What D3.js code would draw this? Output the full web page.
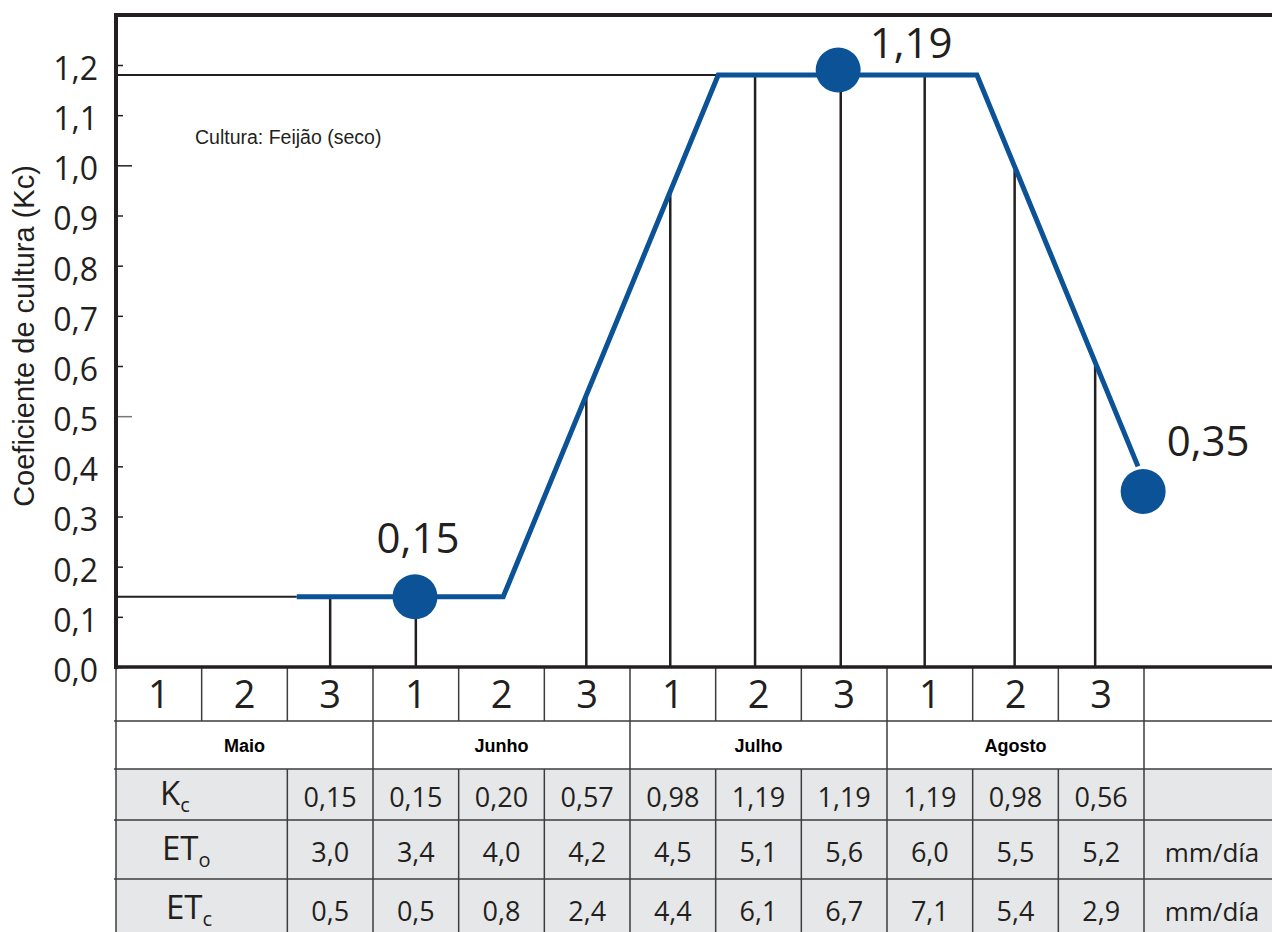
<!DOCTYPE html>
<html>
<head>
<meta charset="utf-8">
<script src="https://cdn.jsdelivr.net/npm/d3@7"></script>
<style>
  html, body { margin: 0; padding: 0; background: #fff; }
  svg { display: block; }
</style>
</head>
<body>
<div id="chart"></div>
<script>
// ---------- DATA ----------
const decadeLabels = ["1","2","3","1","2","3","1","2","3","1","2","3"];
const months = ["Maio","Junho","Julho","Agosto"];
const yTicks = [0,0.1,0.2,0.3,0.4,0.5,0.6,0.7,0.8,0.9,1.0,1.1,1.2];
const kcCurveX = [2.11, 4.52, 7.03, 10.05, 11.93];       // in decade units
const kcCurveY = [0.14, 0.14, 1.18, 1.18, 0.40];
const dropX      = [2.50, 3.50, 5.49, 6.47, 7.46, 8.46, 9.44, 10.49, 11.43]; // decade units
const dropValues = [0.14, 0.14, 0.54, 0.95, 1.18, 1.18, 1.18, 0.99, 0.61];
const markerX = [3.49, 8.43, 11.99];
const markerY = [0.14, 1.19, 0.35];
const markerLabels = ["0,15", "1,19", "0,35"];
const refLineValues = [0.14, 1.18];
const refLineEnds   = [2.11, 7.03];
const kcRow  = ["0,15","0,15","0,20","0,57","0,98","1,19","1,19","1,19","0,98","0,56"];
const etoRow = ["3,0","3,4","4,0","4,2","4,5","5,1","5,6","6,0","5,5","5,2"];
const etcRow = ["0,5","0,5","0,8","2,4","4,4","6,1","6,7","7,1","5,4","2,9"];
const rowLabelMain = ["K","ET","ET"];
const rowLabelSub  = ["c","o","c"];
const rowUnits = ["", "mm/día", "mm/día"];
const yTitle = "Coeficiente de cultura (Kc)";
const cropLabel = "Cultura: Feijão (seco)";

// ---------- LAYOUT ----------
const W = 1272, H = 932;
const ink = "#231f20";
const blue = "#0b5296";
const x = d3.scaleLinear().domain([0, 12]).range([116, 1144]);
const y = d3.scaleLinear().domain([0, 1.2]).range([667, 65]);
const rightEdge = W;
const labelOffsets = [[3, -44], [73, -12], [65, -35]];

const svg = d3.select("#chart").append("svg")
  .attr("width", W).attr("height", H)
  .style("font-family", "'Open Sans', sans-serif");

// ---------- TABLE ----------
const rowTop = [667, 721, 769, 820, 879, 940];
const table = svg.append("g");
table.append("rect").attr("x", x(0)).attr("y", rowTop[2])
  .attr("width", rightEdge - x(0)).attr("height", H - rowTop[2]).attr("fill", "#e6e7e8");

const gridStroke = "#3d3d3d";
[rowTop[1], rowTop[2], rowTop[3], rowTop[4]].forEach(yy => {
  table.append("line").attr("x1", x(0) - 2).attr("x2", rightEdge)
    .attr("y1", yy).attr("y2", yy).attr("stroke", gridStroke).attr("stroke-width", 1.5);
});
table.append("line").attr("x1", x(0)).attr("x2", x(0)).attr("y1", rowTop[0]).attr("y2", H)
  .attr("stroke", gridStroke).attr("stroke-width", 1.5);
d3.range(1, 13).forEach(i => {
  table.append("line").attr("x1", x(i)).attr("x2", x(i)).attr("y1", rowTop[0]).attr("y2", rowTop[1])
    .attr("stroke", gridStroke).attr("stroke-width", 1.5);
});
d3.range(1, 5).forEach(m => {
  table.append("line").attr("x1", x(m * 3)).attr("x2", x(m * 3)).attr("y1", rowTop[1]).attr("y2", rowTop[2])
    .attr("stroke", gridStroke).attr("stroke-width", 1.5);
});
d3.range(2, 13).forEach(i => {
  table.append("line").attr("x1", x(i)).attr("x2", x(i)).attr("y1", rowTop[2]).attr("y2", H)
    .attr("stroke", gridStroke).attr("stroke-width", 1.5);
});

table.selectAll("text.dec").data(decadeLabels).join("text")
  .attr("class", "dec")
  .attr("x", (d, i) => x(i + 0.5)).attr("y", 708)
  .attr("text-anchor", "middle").attr("font-size", 38).attr("fill", ink)
  .text(d => d);

table.selectAll("text.month").data(months).join("text")
  .attr("class", "month")
  .attr("x", (d, i) => x(i * 3 + 1.5)).attr("y", 752)
  .attr("text-anchor", "middle")
  .attr("font-family", "'Liberation Sans', Arial, sans-serif")
  .attr("font-weight", "bold").attr("font-size", 18).attr("fill", "#000")
  .text(d => d);

const rows = [kcRow, etoRow, etcRow];
const rowBaselines = [807, 862, 921];
const labelStartX = [160, 162, 166];
rows.forEach((vals, r) => {
  table.selectAll("text.v" + r).data(vals).join("text")
    .attr("class", "v" + r)
    .attr("x", (d, i) => x(i + 2.5)).attr("y", rowBaselines[r])
    .attr("text-anchor", "middle").attr("font-size", 27).attr("fill", ink)
    .text(d => d);
  const lab = table.append("text")
    .attr("x", labelStartX[r]).attr("y", rowBaselines[r] - 2)
    .attr("font-size", 33).attr("fill", ink);
  lab.append("tspan").text(rowLabelMain[r]);
  lab.append("tspan").attr("font-size", 20).attr("dy", 7).text(rowLabelSub[r]);
  if (rowUnits[r]) {
    table.append("text").attr("x", (x(12) + rightEdge) / 2 + 4).attr("y", rowBaselines[r])
      .attr("text-anchor", "middle").attr("font-size", 26).attr("fill", ink)
      .text(rowUnits[r]);
  }
});

// ---------- PLOT ----------
const plot = svg.append("g");

refLineValues.forEach((v, i) => {
  plot.append("line").attr("x1", x(0)).attr("x2", x(refLineEnds[i]))
    .attr("y1", y(v)).attr("y2", y(v)).attr("stroke", ink).attr("stroke-width", 2);
});

plot.selectAll("line.drop").data(dropX).join("line")
  .attr("class", "drop")
  .attr("x1", d => x(d)).attr("x2", d => x(d))
  .attr("y1", y(0)).attr("y2", (d, i) => y(dropValues[i]))
  .attr("stroke", ink).attr("stroke-width", 2.5);

const pts = kcCurveX.map((d, i) => [d, kcCurveY[i]]);
plot.append("path")
  .attr("d", d3.line().x(d => x(d[0])).y(d => y(d[1]))(pts))
  .attr("fill", "none").attr("stroke", blue).attr("stroke-width", 5)
  .attr("stroke-linejoin", "miter");

plot.selectAll("circle.mk").data(markerX).join("circle")
  .attr("class", "mk")
  .attr("cx", d => x(d)).attr("cy", (d, i) => y(markerY[i])).attr("r", 22.5)
  .attr("fill", blue);
plot.selectAll("text.mkl").data(markerLabels).join("text")
  .attr("class", "mkl")
  .attr("x", (d, i) => x(markerX[i]) + labelOffsets[i][0])
  .attr("y", (d, i) => y(markerY[i]) + labelOffsets[i][1])
  .attr("text-anchor", "middle").attr("font-size", 42).attr("fill", ink)
  .text(d => d);

// ---------- AXES ----------
const fmt = d => d3.format(".1f")(d).replace(".", ",");
const yAxis = svg.append("g").attr("transform", `translate(${x(0)},0)`)
  .call(d3.axisLeft(y).tickValues(yTicks).tickSize(-7).tickPadding(18).tickFormat(fmt));
yAxis.select(".domain").remove();
yAxis.selectAll(".tick line").attr("stroke-width", 1.5)
  .attr("x2", d => (Math.abs(d - 1.0) < 1e-9 || Math.abs(d - 0.5) < 1e-9) ? 16 : 7)
  .attr("stroke", d => Math.abs(d - 0.5) < 1e-9 ? "#777" : ink);
yAxis.selectAll(".tick text").attr("font-size", 32).attr("fill", ink)
  .attr("font-family", "'Open Sans', sans-serif").attr("dy", "0.45em");

svg.append("line").attr("x1", x(0)).attr("x2", x(0)).attr("y1", 13).attr("y2", y(0) + 2)
  .attr("stroke", ink).attr("stroke-width", 4);
svg.append("line").attr("x1", x(0) - 2).attr("x2", rightEdge).attr("y1", 15).attr("y2", 15)
  .attr("stroke", ink).attr("stroke-width", 4);
svg.append("line").attr("x1", x(0) - 2).attr("x2", rightEdge).attr("y1", y(0)).attr("y2", y(0))
  .attr("stroke", ink).attr("stroke-width", 3.5);

svg.append("text")
  .attr("transform", `translate(34, 336) rotate(-90)`)
  .attr("text-anchor", "middle")
  .attr("font-family", "'Liberation Sans', Arial, sans-serif")
  .attr("font-size", 29).attr("fill", ink)
  .text(yTitle);
svg.append("text")
  .attr("x", 195).attr("y", 144)
  .attr("font-family", "'Liberation Sans', Arial, sans-serif")
  .attr("font-size", 19.5).attr("fill", ink)
  .text(cropLabel);
</script>
</body>
</html>
